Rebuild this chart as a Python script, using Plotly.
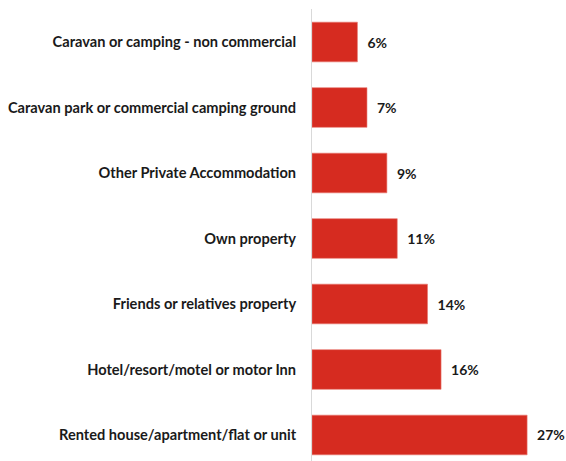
import plotly.graph_objects as go

categories = [
    "Caravan or camping - non commercial",
    "Caravan park or commercial camping ground",
    "Other Private Accommodation",
    "Own property",
    "Friends or relatives property",
    "Hotel/resort/motel or motor Inn",
    "Rented house/apartment/flat or unit",
]
values = [5.7, 6.9, 9.4, 10.7, 14.5, 16.2, 27.0]
value_labels = ["6%", "7%", "9%", "11%", "14%", "16%", "27%"]

FONT = "Lato"
FS = 14.6
VFS = 14.0

fig = go.Figure(
    go.Bar(
        x=values,
        y=categories,
        orientation="h",
        marker=dict(color="#D62B20", line=dict(color="#E8776F", width=0.6)),
        width=0.606,
        text=["\u2002" + t for t in value_labels],
        textposition="outside",
        constraintext="none",
        textfont=dict(family=FONT, size=VFS, color="#1a1a1a", weight="bold"),
        cliponaxis=False,
        hoverinfo="skip",
    )
)

fig.update_layout(
    width=566,
    height=461,
    margin=dict(l=312, r=15, t=9, b=0),
    paper_bgcolor="white",
    plot_bgcolor="white",
    showlegend=False,
    font=dict(family=FONT, size=FS, color="#1a1a1a"),
)
fig.update_xaxes(
    range=[0, 30],
    visible=False,
    showgrid=False,
    zeroline=False,
)
fig.update_yaxes(
    type="category",
    range=[6.397, -0.504],
    showgrid=False,
    zeroline=False,
    showline=True,
    linecolor="#D9D9D9",
    linewidth=1,
    ticks="",
    ticklabelstandoff=12,
    tickfont=dict(family=FONT, size=FS, color="#1a1a1a", weight="bold"),
    automargin=False,
)

fig.write_html(
    "out.html",
    config={"displayModeBar": False},
    post_script="document.body.style.margin='0';document.body.style.overflow='hidden';",
)
